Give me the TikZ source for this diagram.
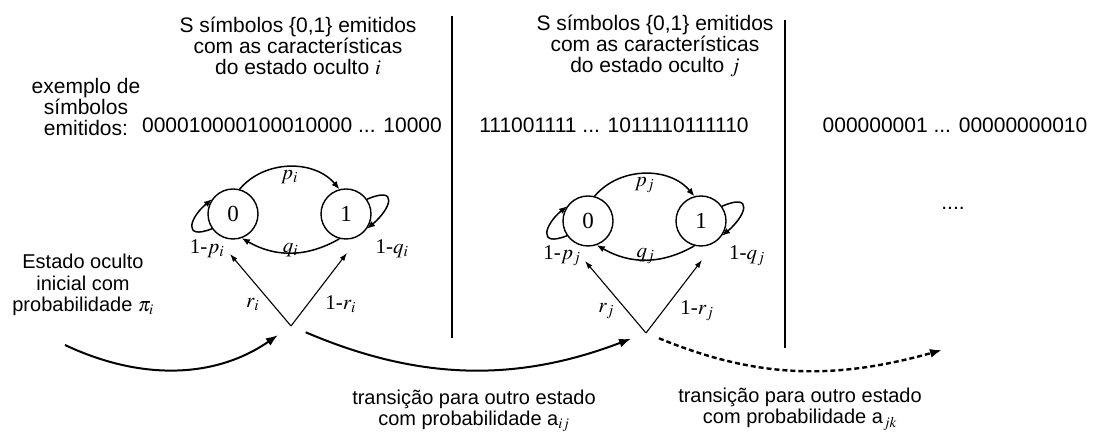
\documentclass[tikz,border=0pt]{standalone}
\usepackage{mathptmx}
\usepackage{fontspec}
\setmainfont{Liberation Serif}
\setsansfont{Liberation Sans}
\usetikzlibrary{arrows.meta,positioning}

\begin{document}
\begin{tikzpicture}[x=1pt,y=1pt,
        txt/.style={align=center,inner sep=0pt},
        low/.style={txt,font=\fontsize{20}{21.5}\selectfont\sffamily},
        lbl/.style={font=\fontsize{21}{21}\selectfont\rmfamily,inner sep=1pt},
        st/.style={draw,circle,line width=1.4pt,minimum size=50pt,inner sep=0pt,
                   font=\fontsize{23}{23}\selectfont\rmfamily},
        arr/.style={line width=1.5pt,-{Latex[length=8pt,width=6.5pt]}},
        rarr/.style={line width=1.1pt,-{Latex[length=8pt,width=5.5pt]}},
        trans/.style={line width=2pt,-{Latex[length=12pt,width=9pt]}},
        every node/.style={font=\fontsize{21}{21}\selectfont\sffamily}]

        \useasboundingbox (0,0) rectangle (1109,436);

        \node[txt] (hi) at (298,390) {S símbolos \{0,1\} emitidos\\com as características\\do estado oculto $i$};
        \node[txt] (hj) at (655,390) {S símbolos \{0,1\} emitidos\\com as características\\do estado oculto $j$};
        \node[txt] (ex) at (86,329) {exemplo de\\símbolos\\emitidos:};
        \node[txt] (qi) at (292,311) {000010000100010000 ... 10000};
        \node[txt] (qj) at (614,311) {111001111 ... 1011110111110};
        \node[txt] (qk) at (955,311) {000000001 ... 00000000010};
        \node[txt] (dots) at (953,228) {....};
        \node[low] (ini) at (83,151) {Estado oculto\\inicial com\\probabilidade $\pi_i$};
        \node[low] (tij) at (474,25) {transição para outro estado\\com probabilidade a$_{ij}$};
        \node[low] (tjk) at (800,27) {transição para outro estado\\com probabilidade a$_{jk}$};

        \foreach \n/\cx/\cy in {i/233/222, j/588/215}{
          \node[st] (s0\n) at (\cx,\cy) {0};
          \node[st] (s1\n) at (\cx+113,\cy) {1};
          \coordinate (ap\n) at (\cx+58,\cy-112);
          \coordinate (t0\n) at (\cx-3,\cy-40);
          \coordinate (t1\n) at (\cx+114,\cy-39);
          \draw[arr] (s0\n.75) to[out=50,in=130] node[lbl,below=2pt] {$p_\n$} (s1\n.105);
          \draw[arr] (s1\n.255) to[out=-150,in=-30] node[lbl,above=-6pt] {$q_\n$} (s0\n.290);
          \draw[arr] (s0\n.215) .. controls +(-30,-12) and +(-22,-18) .. (s0\n.145);
          \draw[arr] (s1\n.35) .. controls +(32,14) and +(24,20) .. (s1\n.325);
          \draw[rarr] (ap\n) -- node[lbl,left=12pt,pos=0.3] {$r_\n$} (t0\n);
          \draw[rarr] (ap\n) -- node[lbl,right=16pt,pos=0.3] {1-$r_\n$} (t1\n);
          \node[lbl] (lp\n) at (\cx-26,\cy-35) {1-$p_\n$};
          \node[lbl] (lq\n) at (\cx+159,\cy-35) {1-$q_\n$};
        }

        \coordinate (ini0) at (65,91);
        \coordinate (fim) at (942,86);
        \draw[trans,shorten >=16pt] (ini0) to[bend right=30] (api);
        \draw[trans,shorten <=16pt,shorten >=16pt] (api) to[bend right=22] (apj);
        \draw[trans,line width=2.4pt,dash pattern=on 5pt off 3pt,shorten <=14pt] (apj) to[bend right=19] (fim);

        \draw[line width=1.4pt] (452,420) -- (452,98);
        \draw[line width=1.4pt] (785,416) -- (785,88);
      \end{tikzpicture}
\end{document}
